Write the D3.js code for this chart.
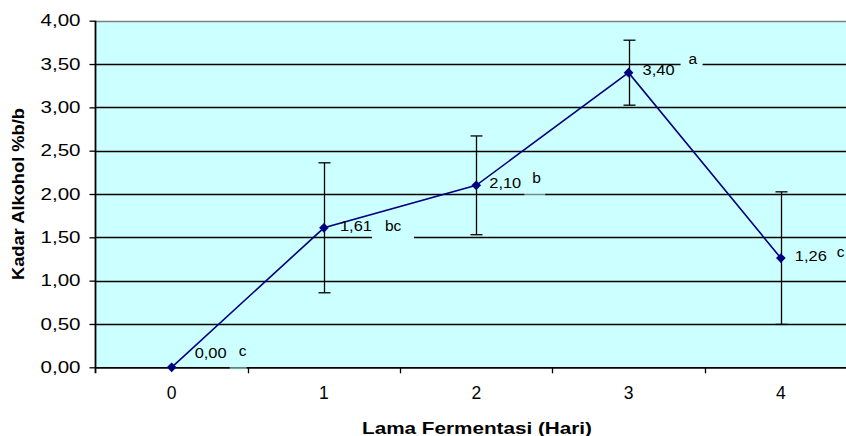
<!DOCTYPE html>
<html><head><meta charset="utf-8">
<script src="https://cdn.jsdelivr.net/npm/d3@7"></script>
<style>body{margin:0;background:#fff}svg{display:block}</style>
</head><body>
<svg id="c" width="846" height="436"></svg>
<script>
const days = ["0","1","2","3","4"];
const values = [0.00, 1.61, 2.10, 3.40, 1.26];
const errors = [0, 0.75, 0.57, 0.375, 0.765];
const valueLabels = ["0,00","1,61","2,10","3,40","1,26"];
const letters = ["c","bc","b","a","c"];
const yTicks = [0,0.5,1,1.5,2,2.5,3,3.5,4];

// layout offsets (pixels, relative to each point)
const valOff = [[23,-9],[16,3],[13,3],[14,2],[14,3]];
const letOff = [[67,-11],[61,3],[56,-2.5],[60,-9],[56,-1]];
const gapBox = [[58,17,0.55],[48,42,1],[48,21,0.55],[52,22,1],[0,0,0]];

const svg = d3.select("#c");
const L = 95.5, R = 857, T = 20.7, B = 367.3;
const x = d3.scaleBand().domain(days).range([L, R]);
const y = d3.scaleLinear().domain([0, 4]).range([B, T]);
const fmt = v => d3.format(".2f")(v).replace(".", ",");
const font = "Liberation Sans, Arial, sans-serif";
const fit = (sel, w) => sel.attr("textLength", w).attr("lengthAdjust", "spacingAndGlyphs");
const cx = d => x(d) + x.bandwidth() / 2;
const snap = v => Math.round(v) + 0.5;

svg.append("rect").attr("x", L).attr("y", T).attr("width", R - L).attr("height", B - T).attr("fill", "#CCFFFF");
// gridlines
svg.append("g").selectAll("line").data(yTicks.filter(v => v > 0 && v < 4)).join("line")
  .attr("x1", L).attr("x2", R).attr("y1", d => snap(y(d))).attr("y2", d => snap(y(d)))
  .attr("stroke", "#000").attr("stroke-width", 1.3);
svg.append("line").attr("x1", L).attr("x2", R).attr("y1", snap(y(4))).attr("y2", snap(y(4)))
  .attr("stroke", "#808080").attr("stroke-width", 1.6);

// boxes behind letter labels (cover gridlines)
svg.append("g").selectAll("rect").data(days).join("rect")
  .attr("x", (d, i) => cx(d) + gapBox[i][0])
  .attr("y", (d, i) => y(values[i] < 0.01 ? 0 : Math.round(values[i] * 2) / 2) - 3)
  .attr("width", (d, i) => gapBox[i][1])
  .attr("height", 6)
  .attr("fill", "#CCFFFF").attr("opacity", (d, i) => gapBox[i][2]);

// y axis
const yAxis = d3.axisLeft(y).tickValues(yTicks).tickFormat(fmt).tickSize(6).tickPadding(9);
const gy = svg.append("g").attr("transform", `translate(${L},0)`).call(yAxis);
gy.select(".domain").remove();
gy.selectAll("text").attr("font-family", font).attr("font-size", 16.5).attr("fill", "#000").call(fit, 40);
gy.selectAll("line").attr("stroke", "#000").attr("stroke-width", 1.3);
svg.append("line").attr("x1", L).attr("x2", L).attr("y1", T).attr("y2", B + 6).attr("stroke", "#000").attr("stroke-width", 1.8);

// x axis: tick marks at category boundaries
const bounds = days.slice(1).map(d => x(d));
svg.append("g").selectAll("line").data(bounds).join("line")
  .attr("x1", d => Math.round(d) + 0.5).attr("x2", d => Math.round(d) + 0.5).attr("y1", B).attr("y2", B + 6)
  .attr("stroke", "#000").attr("stroke-width", 1.3);
const xAxis = d3.axisBottom(x).tickSize(0).tickPadding(19);
const gx = svg.append("g").attr("transform", `translate(0,${B})`).call(xAxis);
gx.select(".domain").remove();
gx.selectAll("text").attr("font-family", font).attr("font-size", 17.5).attr("fill", "#000");

svg.append("line").attr("x1", L).attr("x2", R).attr("y1", B + 0.5).attr("y2", B + 0.5).attr("stroke", "#000").attr("stroke-width", 1.8);
// lighter segment under the first letter label on the axis
svg.append("rect").attr("x", cx(days[0]) + 58).attr("y", B - 1).attr("width", 17).attr("height", 3)
  .attr("fill", "#CCFFFF").attr("opacity", 0.5);

// error bars
const eb = svg.append("g").attr("stroke", "#000").attr("stroke-width", 1.3);
days.forEach((d, i) => {
  if (errors[i] <= 0) return;
  const X = Math.round(cx(d)) + 0.5, y1 = y(values[i] + errors[i]), y0 = y(values[i] - errors[i]);
  eb.append("line").attr("x1", X).attr("x2", X).attr("y1", y1).attr("y2", y0);
  eb.append("line").attr("x1", X - 6).attr("x2", X + 6).attr("y1", y1).attr("y2", y1);
  eb.append("line").attr("x1", X - 6).attr("x2", X + 6).attr("y1", y0).attr("y2", y0);
});

// line
const line = d3.line().x((v, i) => cx(days[i])).y(v => y(v));
svg.append("path").datum(values).attr("d", line).attr("fill", "none").attr("stroke", "#000080").attr("stroke-width", 1.6);
svg.append("g").selectAll("path").data(values).join("path")
  .attr("d", d3.symbol().type(d3.symbolDiamond2).size(60))
  .attr("transform", (v, i) => `translate(${cx(days[i])},${y(v)})`)
  .attr("fill", "#000080");

// value labels
svg.append("g").selectAll("text").data(values).join("text")
  .attr("x", (v, i) => cx(days[i]) + valOff[i][0])
  .attr("y", (v, i) => y(v) + valOff[i][1])
  .attr("font-family", font).attr("font-size", 15).attr("fill", "#000")
  .text((v, i) => valueLabels[i]).call(fit, 32);
// letter labels
svg.append("g").selectAll("text").data(letters).join("text")
  .attr("x", (t, i) => cx(days[i]) + letOff[i][0])
  .attr("y", (t, i) => y(values[i]) + letOff[i][1])
  .attr("font-family", font).attr("font-size", 15.5).attr("fill", "#000")
  .text(t => t);

// axis titles
svg.append("text").attr("x", 477).attr("y", 434).attr("text-anchor", "middle")
  .attr("font-family", font).attr("font-size", 16.5).attr("font-weight", "bold")
  .text("Lama Fermentasi (Hari)").call(fit, 230);
svg.append("text").attr("transform", `translate(24,${(T + B) / 2 - 0}) rotate(-90)`).attr("text-anchor", "middle")
  .attr("font-family", font).attr("font-size", 16.5).attr("font-weight", "bold")
  .text("Kadar Alkohol %b/b").call(fit, 172);
</script>
</body></html>
